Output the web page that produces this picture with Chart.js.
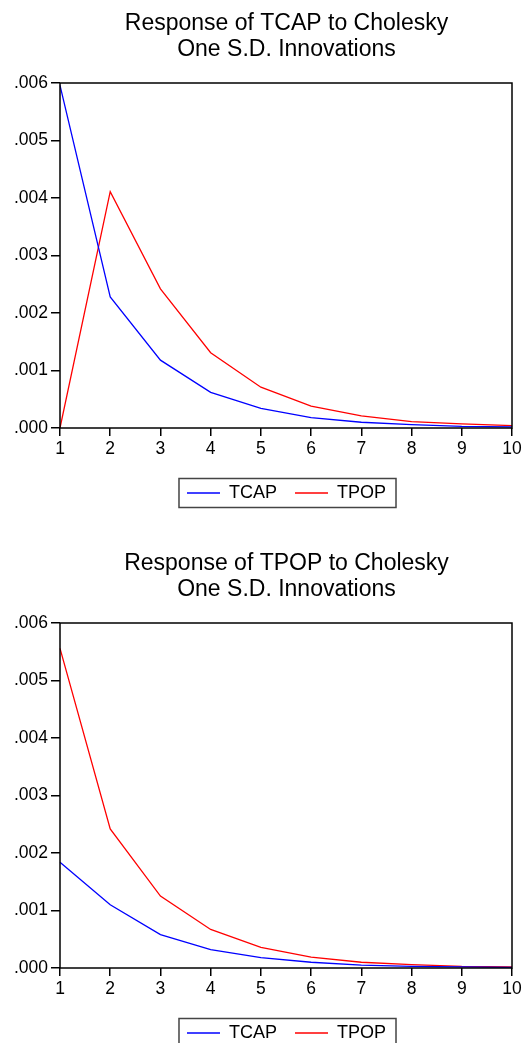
<!DOCTYPE html>
<html>
<head>
<meta charset="utf-8">
<script src="https://cdn.jsdelivr.net/npm/chart.js@4"></script>
<style>
  html, body { margin: 0; padding: 0; background: #fff; overflow: hidden; }
  body { width: 528px; height: 1043px; position: relative; }
  .panel { position: absolute; left: 0; width: 573px; height: 540px; }
</style>
</head>
<body>
<div class="panel" style="top:0"><canvas id="chartTcap" width="573" height="540"></canvas></div>
<div class="panel" style="top:540px"><canvas id="chartTpop" width="573" height="540"></canvas></div>
<script>
// impulse response periods
const periods = ['1', '2', '3', '4', '5', '6', '7', '8', '9', '10'];

// Response of TCAP to shocks
const tcapRespTcap = [0.00596, 0.00228, 0.00118, 0.00062, 0.00034, 0.00018, 0.00010, 0.00006, 0.00003, 0.00002];
const tcapRespTpop = [0.00000, 0.00411, 0.00242, 0.00131, 0.00071, 0.00038, 0.00021, 0.00011, 0.00007, 0.00004];

// Response of TPOP to shocks
const tpopRespTcap = [0.00184, 0.00110, 0.00058, 0.00032, 0.00018, 0.00010, 0.00005, 0.00003, 0.00002, 0.00001];
const tpopRespTpop = [0.00556, 0.00242, 0.00125, 0.00067, 0.00036, 0.00019, 0.00010, 0.00006, 0.00003, 0.00002];

const seriesNames = ['TCAP', 'TPOP'];
const yMin = 0, yMax = 0.006, yStep = 0.001;

Chart.defaults.font.family = '"Liberation Sans", Arial, sans-serif';
Chart.defaults.color = '#000';

// frame round the plot area + box round the legend
const framePlugin = {
  id: 'frame',
  afterDraw(chart) {
    const { ctx, chartArea: a } = chart;
    ctx.save();
    ctx.strokeStyle = '#000';
    ctx.lineWidth = 1.5;
    ctx.strokeRect(a.left, a.top, a.right - a.left, a.bottom - a.top);

    const boxes = chart.legend && chart.legend.legendHitBoxes;
    if (boxes && boxes.length) {
      const l = Math.min(...boxes.map(b => b.left)) - 8;
      const r = Math.max(...boxes.map(b => b.left + b.width)) + 10;
      const cy = boxes[0].top + boxes[0].height / 2;
      ctx.strokeStyle = '#444';
      ctx.lineWidth = 1.5;
      ctx.strokeRect(l, cy - 14.5, r - l, 29);
    }
    ctx.restore();
  }
};

function makeChart(id, titleLines, tcapVals, tpopVals) {
  const ctx = document.getElementById(id).getContext('2d');
  return new Chart(ctx, {
    type: 'line',
    data: {
      labels: periods,
      datasets: [
        { label: seriesNames[0], data: tcapVals, borderColor: '#0000ff', borderWidth: 1.3, pointRadius: 0, tension: 0, fill: false },
        { label: seriesNames[1], data: tpopVals, borderColor: '#ff0000', borderWidth: 1.3, pointRadius: 0, tension: 0, fill: false },
      ],
    },
    options: {
      responsive: false,
      animation: false,
      devicePixelRatio: 1,
      layout: { padding: { top: 11, right: 0, bottom: 28, left: 0 } },
      plugins: {
        title: {
          display: true,
          text: titleLines,
          font: { size: 23, weight: 'normal', lineHeight: 26 / 23 },
          color: '#000',
          padding: { top: 0, bottom: 20 },
        },
        legend: {
          position: 'bottom',
          labels: {
            usePointStyle: true,
            pointStyle: 'line',
            pointStyleWidth: 33,
            padding: 18,
            font: { size: 18 },
            color: '#000',
          },
        },
        tooltip: { enabled: false },
      },
      scales: {
        x: {
          type: 'category',
          offset: false,
          border: { display: false },
          grid: { drawOnChartArea: false, drawTicks: true, tickLength: 8, color: '#000', lineWidth: 1.5, offset: false },
          ticks: { font: { size: 17.5 }, color: '#000', padding: 3, maxRotation: 0, autoSkip: false },
          afterFit(scale) { scale.height = 38; },
        },
        y: {
          min: yMin,
          max: yMax,
          border: { display: false },
          grid: { drawOnChartArea: false, drawTicks: true, tickLength: 9, color: '#000', lineWidth: 1.5 },
          ticks: {
            stepSize: yStep,
            font: { size: 17.5 },
            color: '#000',
            padding: 3,
            callback: (v) => v.toFixed(3).replace(/^0/, ''),
          },
          afterFit(scale) { scale.width = 60; },
        },
        // empty right-hand spacer so title and legend centre over the plot
        spacer: {
          position: 'right',
          border: { display: false },
          grid: { display: false },
          ticks: { display: false },
          afterFit(scale) { scale.width = 61; },
        },
      },
    },
    plugins: [framePlugin],
  });
}

makeChart('chartTcap', ['Response of TCAP to Cholesky', 'One S.D. Innovations'], tcapRespTcap, tcapRespTpop);
makeChart('chartTpop', ['Response of TPOP to Cholesky', 'One S.D. Innovations'], tpopRespTcap, tpopRespTpop);
</script>
</body>
</html>
